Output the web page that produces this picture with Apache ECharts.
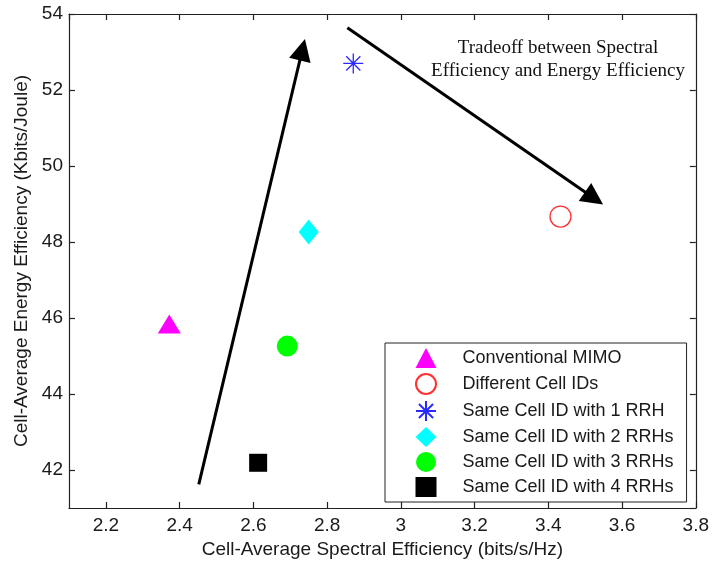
<!DOCTYPE html>
<html><head><meta charset="utf-8">
<script src="https://cdn.jsdelivr.net/npm/echarts@6/dist/echarts.min.js"></script>
<style>html,body{margin:0;padding:0;background:#fff}#c{width:712px;height:565px}</style>
</head><body><div id="c"></div>
<script>
// ---- data ----
const seriesNames = ['Conventional MIMO', 'Different Cell IDs', 'Same Cell ID with 1 RRH',
  'Same Cell ID with 2 RRHs', 'Same Cell ID with 3 RRHs', 'Same Cell ID with 4 RRHs'];
const spectralEff = [2.372, 3.433, 2.871, 2.750, 2.692, 2.613];
const energyEff = [45.84, 48.67, 52.70, 48.26, 45.26, 42.19];
const xRange = [2.1, 3.8];
const yRange = [41, 54];
const arrowStarts = [[2.452, 41.62], [2.855, 53.64]];
const arrowEnds = [[2.733, 53.06], [3.524, 49.15]];
const annotationLines = ['Tradeoff between Spectral', 'Efficiency and Energy Efficiency'];
const xTitle = 'Cell-Average Spectral Efficiency (bits/s/Hz)';
const yTitle = 'Cell-Average Energy Efficiency (Kbits/Joule)';

// ---- styles ----
const starPath = 'path://M0,-10L0,10M-10,0L10,0M-7.07,-7.07L7.07,7.07M-7.07,7.07L7.07,-7.07';
const markerStyles = [
  {symbol: 'triangle', size: [23, 19], itemStyle: {color: '#ff00ff', opacity: 1}},
  {symbol: 'circle', size: 21, itemStyle: {color: '#ffffff', borderColor: '#ff3030', borderWidth: 1.3, opacity: 1}},
  {symbol: starPath, size: 20, itemStyle: {color: '#2a2aff', borderColor: '#2a2aff', borderWidth: 1.3, opacity: 1}},
  {symbol: 'diamond', size: [20, 25], itemStyle: {color: '#00ffff', opacity: 1}},
  {symbol: 'circle', size: 21, itemStyle: {color: '#00ff00', opacity: 1}},
  {symbol: 'rect', size: 18, itemStyle: {color: '#000000', opacity: 1}}
];
const FONT = '"Liberation Sans", Arial, sans-serif';
const TXT = '#1a1a1a';
const AX = '#222';

const chart = echarts.init(document.getElementById('c'), null, {renderer: 'canvas'});

function axisBase(extra) {
  return Object.assign({
    type: 'value',
    axisLine: {show: true, onZero: false, lineStyle: {color: AX, width: 1.2}},
    axisTick: {show: true, inside: true, length: 6, lineStyle: {color: AX, width: 1.2}},
    splitLine: {show: false},
    axisLabel: {show: true, color: TXT, fontFamily: FONT, fontSize: 19, showMinLabel: false}
  }, extra);
}

const series = seriesNames.map((name, i) => ({
  type: 'scatter',
  name: name,
  xAxisIndex: 0, yAxisIndex: 0,
  symbol: markerStyles[i].symbol,
  symbolSize: markerStyles[i].size,
  itemStyle: markerStyles[i].itemStyle,
  emphasis: {disabled: true},
  data: [[spectralEff[i], energyEff[i]]],
  z: 3
}));

series.push({
  type: 'lines',
  coordinateSystem: 'cartesian2d',
  xAxisIndex: 0, yAxisIndex: 0,
  symbol: ['none', 'triangle'],
  symbolSize: [14, 22],
  lineStyle: {color: '#000', width: 3, opacity: 1},
  itemStyle: {color: '#000'},
  data: arrowStarts.map((s, i) => ({coords: [s, arrowEnds[i]]})),
  z: 4,
  silent: true
});

chart.setOption({
  animation: false,
  backgroundColor: '#fff',
  grid: {left: 69, top: 14, right: 16, bottom: 57, containLabel: false},
  xAxis: [
    axisBase({min: xRange[0], max: xRange[1], splitNumber: 8, position: 'bottom',
      name: xTitle, nameLocation: 'middle', nameGap: 28,
      nameTextStyle: {color: TXT, fontFamily: FONT, fontSize: 19},
      axisLabel: {show: true, color: TXT, fontFamily: FONT, fontSize: 19, margin: 8, showMinLabel: false}}),
    axisBase({min: xRange[0], max: xRange[1], splitNumber: 8, position: 'top',
      axisLabel: {show: false}})
  ],
  yAxis: [
    axisBase({min: yRange[0], max: yRange[1], splitNumber: 6, position: 'left',
      name: yTitle, nameLocation: 'middle', nameGap: 30,
      nameTextStyle: {color: TXT, fontFamily: FONT, fontSize: 19},
      axisLabel: {show: true, color: TXT, fontFamily: FONT, fontSize: 19, margin: 6, showMinLabel: false}}),
    axisBase({min: yRange[0], max: yRange[1], splitNumber: 6, position: 'right',
      axisLabel: {show: false}})
  ],
  legend: {
    data: seriesNames,
    orient: 'vertical',
    left: 385, top: 343,
    padding: [5, 13, 5, 30],
    itemWidth: 21, itemHeight: 20, itemGap: 5,
    borderColor: '#222', borderWidth: 1,
    backgroundColor: '#fff',
    selectedMode: false,
    textStyle: {color: TXT, fontFamily: FONT, fontSize: 18, lineHeight: 20, padding: [0, 0, 0, 21]}
  },
  graphic: [{
    type: 'text',
    x: 558, y: 37,
    style: {
      text: annotationLines.join('\n'),
      fill: '#111',
      font: '19px "Liberation Serif", "Times New Roman", serif',
      lineHeight: 23,
      align: 'center',
      textAlign: 'center',
      verticalAlign: 'top'
    }
  }],
  series: series
});
</script></body></html>
